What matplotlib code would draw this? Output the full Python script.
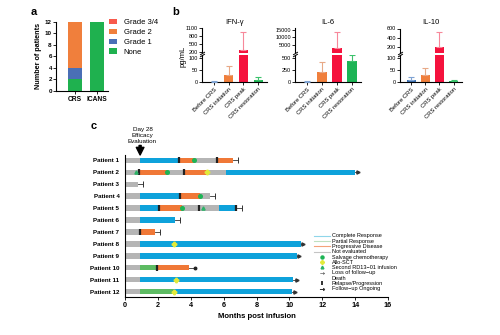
import numpy as np
import matplotlib
matplotlib.use("Agg")
import matplotlib.pyplot as plt
from matplotlib.lines import Line2D

plt.rcParams['font.family'] = ['Liberation Sans', 'DejaVu Sans']

W, H = 500, 335


def box(x0, y0, x1, y1):
    # pixel box (top-left origin) -> figure fraction rect
    return [x0 / W, 1 - y1 / H, (x1 - x0) / W, (y1 - y0) / H]


# ---------------- panel a data
a_groups = ["CRS", "ICANS"]
a_none = [2, 12]
a_grade1 = [2, 0]
a_grade2 = [8, 0]
a_grade34 = [0, 0]

# ---------------- panel b data
b_stages = ["Before CRS", "CRS initiation", "CRS peak", "CRS restoration"]
ifn_mean = [3, 28, 310, 10]
ifn_err = [1, 37, 670, 12]
il6_mean = [15, 210, 3240, 430]
il6_err = [25, 210, 10400, 130]
il10_mean = [8, 29, 185, 5]
il10_err = [14, 28, 335, 5]

# ---------------- panel c data
patients = ["Patient %d" % i for i in range(1, 13)]
seg_patient = [1, 1, 1, 1, 1,
               2, 2, 2, 2, 2, 2,
               3,
               4, 4, 4, 4,
               5, 5, 5, 5, 5,
               6, 6,
               7, 7,
               8, 8,
               9, 9,
               10, 10, 10,
               11, 11,
               12, 12, 12]
seg_start = [0, 0.92, 3.3, 4.22, 5.62,
             0, 0.87, 2.53, 3.61, 5.0, 6.12,
             0,
             0, 0.92, 3.35, 4.56,
             0, 0.92, 2.07, 3.49, 5.72,
             0, 0.92,
             0, 0.9,
             0, 0.92,
             0, 0.92,
             0, 0.92, 1.92,
             0, 0.92,
             0, 0.92, 2.97]
seg_end = [0.92, 3.3, 4.22, 5.62, 6.6,
           0.87, 2.53, 3.61, 5.0, 6.12, 14.0,
           0.77,
           0.92, 3.35, 4.56, 5.17,
           0.92, 2.07, 3.49, 5.72, 6.7,
           0.92, 3.04,
           0.9, 1.82,
           0.92, 10.69,
           0.92, 10.44,
           0.92, 1.92, 3.91,
           0.92, 10.24,
           0.92, 2.97, 10.14]
seg_status = ["NE", "CR", "PD", "NE", "PD",
              "NE", "PD", "NE", "PD", "NE", "CR",
              "NE",
              "NE", "CR", "PD", "NE",
              "NE", "CR", "PD", "NE", "CR",
              "NE", "CR",
              "NE", "PD",
              "NE", "CR",
              "NE", "CR",
              "NE", "PR", "PD",
              "NE", "CR",
              "NE", "PR", "CR"]

relapse_p = [1, 1, 2, 2, 4, 5, 5, 5, 7, 10]
relapse_x = [3.3, 5.62, 0.87, 3.61, 3.35, 2.07, 4.5, 6.73, 0.9, 1.92]
salvage_p = [1, 2, 4, 5]
salvage_x = [4.22, 2.53, 4.56, 3.49]
allo_p = [2, 8, 11, 12]
allo_x = [5.0, 2.98, 3.1, 2.97]
reinf_p = [2, 5]
reinf_x = [0.66, 4.72]
end_p = list(range(1, 13))
end_last = [6.6, 14.0, 0.77, 5.17, 6.7, 3.04, 1.82, 10.69, 10.44, 3.91, 10.24, 10.14]
end_x = [6.9, 14.2, 1.07, 5.47, 7.12, 3.35, 2.13, 10.85, 10.6, 4.26, 10.44, 10.34]
end_type = ["death", "ongoing", "death", "death", "death", "death", "death",
            "ongoing", "ongoing", "loss", "ongoing", "ongoing"]

# ---------------- styles
c_grade34 = "#F85A4C"
c_grade2 = "#F07F3C"
c_grade1 = "#4A6FB6"
c_none = "#1FB14F"
b_colors = ["#3A6FB0", "#F07F3C", "#F5123D", "#1DB455"]
b_errcolors = ["#7FA3D3", "#E8A987", "#F7889A", "#3CC26C"]
status_colors = {"NE": "#B5B5B5", "CR": "#0EA2DB", "PR": "#5DBB63", "PD": "#F07837"}

fig = plt.figure(figsize=(5, 3.35), dpi=100)

# ================= panel a
axa = fig.add_axes(box(56, 21.7, 108, 90.7))
xa = np.arange(len(a_groups))
bottom = np.zeros(len(a_groups))
for vals, col, lab in [(a_none, c_none, "None"), (a_grade1, c_grade1, "Grade 1"),
                       (a_grade2, c_grade2, "Grade 2"), (a_grade34, c_grade34, "Grade 3/4")]:
    axa.bar(xa, vals, bottom=bottom, width=0.66, color=col, label=lab)
    bottom += np.array(vals)
axa.set_xlim(-0.9, 1.53)
axa.set_ylim(0, 12)
axa.set_yticks(range(0, 13, 2))
axa.set_xticks(xa)
axa.set_xticklabels(a_groups, fontsize=4.8, fontweight="bold")
axa.tick_params(axis="y", labelsize=4.5, length=2, width=0.6, pad=1)
axa.tick_params(axis="x", length=2, width=0.6, pad=1.5)
for lbl in axa.get_yticklabels():
    lbl.set_fontweight("bold")
axa.spines[["top", "right"]].set_visible(False)
axa.spines[["left", "bottom"]].set_linewidth(0.8)
axa.set_ylabel("Number of patients", fontsize=5.2, fontweight="bold", labelpad=2)
h, l = axa.get_legend_handles_labels()
fig.legend(h[::-1], l[::-1], loc="upper left", bbox_to_anchor=(109 / W, 1 - 19 / H),
           frameon=False, fontsize=5.5, handlelength=1.0, handleheight=0.7,
           handletextpad=0.9, labelspacing=0.32, borderpad=0, borderaxespad=0)


# ================= panel b
def cyto_panel(x0, x1, mean, err, lo_lim, lo_ticks, hi_lim, hi_ticks, title):
    ax_hi = fig.add_axes(box(x0, 28.5, x1, 52.5))
    ax_lo = fig.add_axes(box(x0, 55, x1, 82.5))
    xs = np.arange(len(mean))
    ax_lo.bar(xs, mean, width=0.62, color=b_colors, zorder=2)
    for xi, m, e, ec in zip(xs, mean, err, b_errcolors):
        ax_lo.errorbar(xi, m, yerr=[[0], [e]], color=ec, capsize=2.2, lw=0.8,
                       capthick=0.8, zorder=3)
        if m > lo_lim[1]:
            # values that pass the break continue in the upper segment
            ax_hi.bar(xi, m, width=0.62, color=b_colors[xi], zorder=2)
            ax_hi.errorbar(xi, m, yerr=[[0], [e]], color=ec, capsize=2.2, lw=0.8,
                           capthick=0.8, zorder=3)
    for ax in (ax_lo, ax_hi):
        ax.set_xlim(-0.8, 3.6)
        ax.spines[["top", "right"]].set_visible(False)
        ax.spines[["left", "bottom"]].set_linewidth(0.8)
        ax.tick_params(axis="y", labelsize=4, length=2, width=0.6, pad=1)
    ax_lo.set_ylim(*lo_lim)
    ax_lo.set_yticks(lo_ticks)
    ax_hi.set_ylim(*hi_lim)
    ax_hi.set_yticks(hi_ticks)
    ax_hi.spines["bottom"].set_visible(False)
    ax_hi.set_xticks([])
    ax_lo.set_xticks(xs)
    ax_lo.set_xticklabels(b_stages, rotation=45, ha="right", rotation_mode="anchor",
                          fontsize=4.2)
    ax_lo.tick_params(axis="x", length=2, width=0.6, pad=1)
    # break marks on the y-axis
    kw = dict(marker=[(-1, -0.6), (1, 0.6)], markersize=3.5, linestyle="none",
              color="k", mec="k", mew=0.7, clip_on=False)
    ax_lo.plot([0], [1], transform=ax_lo.transAxes, **kw)
    ax_hi.plot([0], [0], transform=ax_hi.transAxes, **kw)
    ax_hi.set_title(title, fontsize=5.5, pad=3)
    return ax_lo, ax_hi


cyto_panel(202, 267, ifn_mean, ifn_err, (0, 110), [0, 50, 100],
           (200, 1100), [200, 500, 800, 1100], "IFN-γ")
cyto_panel(295, 361, il6_mean, il6_err, (0, 560), [0, 250, 500],
           (98, 15784), [5000, 10000, 15000], "IL-6")
cyto_panel(400, 462, il10_mean, il10_err, (0, 110), [0, 50, 100],
           (74, 600), [200, 400, 600], "IL-10")
fig.text(183 / W, 1 - 56 / H, "pg/mL", rotation=90, ha="center", va="center", fontsize=5.5)

# ================= panel c
axc = fig.add_axes(box(125, 155, 388, 296.7))
for p, s, e, st in zip(seg_patient, seg_start, seg_end, seg_status):
    axc.barh(p, e - s, left=s, height=0.45, color=status_colors[st], zorder=2)
for p, xl, xe, t in zip(end_p, end_last, end_x, end_type):
    axc.plot([xl, xe], [p, p], color="#333333", lw=0.6, zorder=1)
    if t == "death":
        axc.plot(xe, p, marker="|", ms=4, mew=0.7, color="#333333")
    elif t == "ongoing":
        axc.plot(xe, p, marker=">", ms=2.3, color="#333333")
    else:
        axc.plot(xe, p, marker="o", ms=1.8, color="#222222")
axc.plot(relapse_x, relapse_p, linestyle="none", marker="|", ms=4.5, mew=1.6,
         color="#222222", zorder=4)
axc.plot(salvage_x, salvage_p, linestyle="none", marker="o", ms=2.6, color="#1DB455",
         zorder=5)
axc.plot(allo_x, allo_p, linestyle="none", marker="P", ms=3.2, color="#E2EA3A",
         mec="#E2EA3A", zorder=5)
axc.plot(reinf_x, reinf_p, linestyle="none", marker="^", ms=2.3, color="#2DB368",
         zorder=5)
axc.set_xlim(0, 16)
axc.set_ylim(12.42, 0.55)
axc.set_xticks(range(0, 17, 2))
axc.set_yticks(range(1, 13))
axc.set_yticklabels(patients, fontsize=4.5, fontweight="bold")
for lbl in axc.get_xticklabels():
    lbl.set_fontweight("bold")
axc.tick_params(axis="x", labelsize=5.2, length=2, width=0.6, pad=2)
axc.tick_params(axis="y", length=0, pad=4)
axc.spines[["top", "right"]].set_visible(False)
axc.spines[["left", "bottom"]].set_linewidth(0.8)
axc.set_xlabel("Months post infusion", fontsize=5.6, fontweight="bold", labelpad=3)

# Day 28 marker
axc.annotate("", xy=(0.92, 0.55), xytext=(0.92, -0.25), annotation_clip=False,
             arrowprops=dict(arrowstyle="simple,head_length=0.55,head_width=0.55,tail_width=0.15",
                             color="k", shrinkA=0, shrinkB=0))
fig.text(142.5 / W, 1 - 135 / H, "Day 28\nEfficacy\nEvaluation", ha="center", va="center",
         fontsize=4.5, linespacing=1.25)

# legend of panel c
c_handles = [
    Line2D([], [], color="#8FD6EA", lw=0.8),
    Line2D([], [], color="#BFE0C0", lw=0.8),
    Line2D([], [], color="#F4A27A", lw=0.8),
    Line2D([], [], color="#C4C4C4", lw=0.8),
    Line2D([], [], ls="none", marker="o", ms=2.2, color="#1DB455"),
    Line2D([], [], ls="none", marker="P", ms=2.6, color="#E2EA3A"),
    Line2D([], [], ls="none", marker="^", ms=2.0, color="#2DB368"),
    Line2D([], [], ls="none", marker=r"$\rightarrow$", ms=3.2, mew=0, color="#222222"),
    Line2D([], [], ls="none", marker=r"$\dashv$", ms=2.8, mew=0, color="#222222"),
    Line2D([], [], ls="none", marker="|", ms=3.0, mew=1.3, color="#222222"),
    Line2D([], [], ls="none", marker=r"$\rightarrow$", ms=3.4, mew=0.3, color="#222222"),
]
c_labels = ["Complete Response", "Partial Response", "Progressive Disease", "Not evaluated",
            "Salvage chemotherapy", "Allo-SCT", "Second RD13\u221201 infusion",
            "Loss of follow\u2212up", "Death", "Relapse/Progression", "Follow\u2212up Ongoing"]
fig.legend(c_handles, c_labels, loc="upper left", bbox_to_anchor=(314 / W, 1 - 233.5 / H),
           frameon=False, fontsize=4.0, handlelength=2.9, handletextpad=0.3,
           handleheight=0.5, labelspacing=0.05, borderpad=0, borderaxespad=0)

# panel letters
fig.text(34 / W, 1 - 12 / H, "a", fontsize=8, fontweight="bold", ha="center", va="center")
fig.text(176 / W, 1 - 12 / H, "b", fontsize=8, fontweight="bold", ha="center", va="center")
fig.text(94 / W, 1 - 126 / H, "c", fontsize=8, fontweight="bold", ha="center", va="center")

fig.savefig("out.png", dpi=100)
